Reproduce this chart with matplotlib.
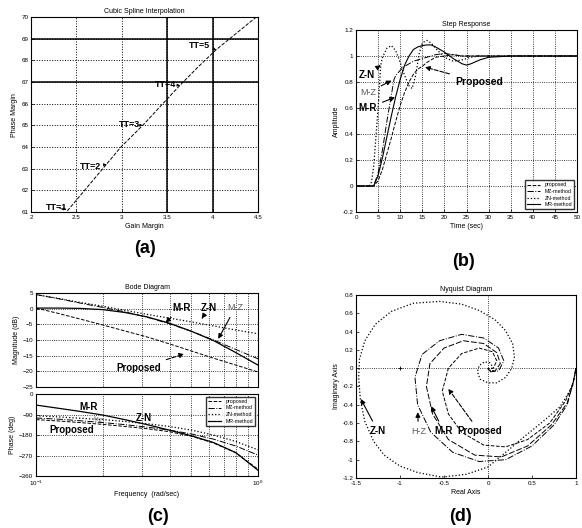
import numpy as np
import matplotlib
matplotlib.use('Agg')
from matplotlib import pyplot as plt
from matplotlib.ticker import NullFormatter

plt.rcParams['font.family'] = ['Liberation Sans', 'DejaVu Sans']

# ---- (a) cubic spline interpolation: gain margin vs phase margin
gm = [2.40, 2.49, 2.66, 2.83, 2.99, 3.23, 3.44, 3.64, 3.84, 4.04, 4.26, 4.48]
pm = [61.05, 61.5, 62.35, 63.2, 64.0, 65.0, 65.95, 66.85, 67.7, 68.5, 69.25, 70.0]
tt_labels = ['TT=1', 'TT=2', 'TT=3', 'TT=4', 'TT=5']
tt_gm = [2.42, 2.83, 3.23, 3.64, 4.04]
tt_pm = [61.1, 63.2, 65.0, 66.85, 68.5]
tt_text_gm = [2.28, 2.65, 3.08, 3.48, 3.86]
tt_text_pm = [61.2, 63.1, 65.05, 66.9, 68.7]

# ---- (b) step response
t_zn = [0, 3, 3.5, 4, 5, 5.6, 6, 7, 8, 9, 10, 11, 12, 12.7, 13.5, 14.3, 15, 16, 17, 18, 20, 22, 24, 26, 28, 30, 35, 40, 50]
y_zn = [0, 0, 0.03, 0.15, 0.6, 0.93, 0.99, 1.06, 1.08, 1.04, 0.95, 0.85, 0.77, 0.75, 0.85, 1.02, 1.1, 1.12, 1.1, 1.06, 0.99, 0.96, 0.97, 0.99, 1.0, 1.0, 1.0, 1.0, 1.0]
t_mz = [0, 4, 5, 6, 7, 8, 8.6, 9, 10, 11, 12, 13, 14, 16, 18, 20, 22, 24, 26, 28, 30, 35, 40, 50]
y_mz = [0, 0, 0.1, 0.28, 0.5, 0.7, 0.82, 0.85, 0.89, 0.92, 0.94, 0.96, 0.97, 0.99, 1.01, 1.02, 1.01, 1.0, 1.0, 1.0, 1.0, 1.0, 1.0, 1.0]
t_mr = [0, 4, 5, 6, 7, 8, 9, 10, 11, 12, 13, 14, 15, 16, 17, 18, 19, 20, 22, 24, 25, 26, 28, 30, 35, 40, 50]
y_mr = [0, 0, 0.08, 0.22, 0.38, 0.54, 0.69, 0.82, 0.93, 1.0, 1.05, 1.07, 1.08, 1.085, 1.085, 1.07, 1.05, 1.03, 0.98, 0.94, 0.93, 0.94, 0.97, 0.99, 1.0, 1.0, 1.0]
t_pr = [0, 4, 5, 6, 7, 8, 9, 10, 11, 12, 13, 14, 15, 16, 17, 18, 20, 22, 24, 26, 30, 35, 40, 50]
y_pr = [0, 0, 0.04, 0.13, 0.25, 0.37, 0.5, 0.62, 0.72, 0.8, 0.86, 0.9, 0.92, 0.95, 0.97, 0.99, 1.0, 1.01, 1.0, 1.0, 1.0, 1.0, 1.0, 1.0]

# ---- (c) bode diagram, one decade 0.1 .. 1 rad/sec
w = [0.1, 0.126, 0.158, 0.2, 0.251, 0.316, 0.398, 0.501, 0.631, 0.794, 1.0]
mag_zn = [4.5, 3.3, 2.0, 0.8, -0.5, -1.8, -3.0, -4.2, -5.5, -6.8, -8.0]
mag_mz = [4.5, 3.2, 1.8, 0.4, -1.0, -2.7, -4.8, -7.2, -10.0, -13.0, -16.0]
mag_mr = [0.2, 0.2, 0.1, -0.3, -1.2, -2.6, -4.6, -7.2, -10.2, -14.0, -18.0]
mag_pr = [0.2, -1.5, -3.3, -5.2, -7.1, -9.0, -11.2, -13.5, -15.8, -18.0, -20.2]
ph_zn = [-95, -100, -106, -112, -120, -130, -142, -158, -180, -208, -245]
ph_mz = [-105, -110, -117, -125, -134, -145, -158, -175, -198, -228, -268]
ph_mr = [-48, -62, -76, -92, -112, -134, -158, -183, -213, -257, -335]
ph_pr = [-112, -118, -125, -133, -142, -152, -165, -185, -215, -258, -330]

# ---- (d) nyquist diagram
re_zn = [1.0, 0.96, 0.82, 0.64, 0.41, 0.2, 0.0, -0.25, -0.53, -0.8, -1.0, -1.18, -1.3, -1.4, -1.45, -1.47,
         -1.46, -1.4, -1.28, -1.1, -0.85, -0.55, -0.3, -0.1, 0.08, 0.2, 0.28, 0.3, 0.27, 0.2, 0.1, 0.0,
         -0.09, -0.12, -0.1, -0.04, 0.02, 0.05, 0.04, 0.01, 0.0]
im_zn = [0.0, -0.2, -0.42, -0.57, -0.75, -0.92, -1.08, -1.16, -1.19, -1.14, -1.07, -0.95, -0.8, -0.58, -0.35, -0.1,
         0.1, 0.3, 0.48, 0.62, 0.71, 0.73, 0.7, 0.63, 0.53, 0.41, 0.27, 0.12, 0.0, -0.1, -0.16, -0.16,
         -0.12, -0.04, 0.03, 0.07, 0.06, 0.02, -0.02, -0.03, 0.0]
re_mz = [1.0, 0.97, 0.9, 0.75, 0.5, 0.2, -0.1, -0.4, -0.65, -0.8, -0.83, -0.75, -0.55, -0.3, -0.05, 0.12, 0.18, 0.12, 0.03, 0.0]
im_mz = [0.0, -0.15, -0.4, -0.62, -0.85, -1.0, -1.02, -0.92, -0.7, -0.4, -0.1, 0.15, 0.3, 0.37, 0.33, 0.22, 0.08, -0.03, -0.04, 0.0]
re_mr = [1.0, 0.97, 0.9, 0.72, 0.45, 0.15, -0.15, -0.45, -0.63, -0.7, -0.66, -0.5, -0.28, -0.05, 0.1, 0.14, 0.08, 0.01, 0.0]
im_mr = [0.0, -0.15, -0.38, -0.62, -0.85, -0.97, -0.95, -0.78, -0.5, -0.2, 0.05, 0.22, 0.3, 0.27, 0.17, 0.05, -0.03, -0.02, 0.0]
re_pr = [1.0, 0.97, 0.88, 0.7, 0.45, 0.2, -0.05, -0.3, -0.45, -0.52, -0.45, -0.3, -0.1, 0.05, 0.1, 0.06, 0.0]
im_pr = [0.0, -0.15, -0.36, -0.6, -0.78, -0.86, -0.84, -0.7, -0.5, -0.25, 0.0, 0.16, 0.22, 0.18, 0.08, 0.0, -0.01]

legend_names = ['proposed', 'MZ-method', 'ZN-method', 'MR-method']

fs_tick = 4.5
arrow = dict(arrowstyle='-|>', color='k', lw=0.8, mutation_scale=7)
arrow_dash = dict(arrowstyle='-|>', color='k', lw=0.8, ls='--', mutation_scale=7)


def setup(ax, title, xlabel, ylabel):
    ax.set_title(title, fontsize=5, pad=3)
    ax.set_xlabel(xlabel, fontsize=5, labelpad=2)
    ax.set_ylabel(ylabel, fontsize=5, labelpad=2)
    ax.tick_params(which='both', labelsize=fs_tick, direction='in', width=0.5, pad=2)
    ax.tick_params(which='major', length=2)
    ax.tick_params(which='minor', length=1)
    for s in ax.spines.values():
        s.set_linewidth(0.8)


fig = plt.figure(figsize=(5.82, 5.28), dpi=100)

# (a)
ax = fig.add_axes([0.0533, 0.5985, 0.390, 0.369])
ax.plot(gm, pm, 'k--', lw=0.7)
ax.set_xlim(2, 4.5)
ax.set_ylim(61, 70)
ax.set_xticks([2, 2.5, 3, 3.5, 4, 4.5])
ax.set_xticklabels(['2', '2.5', '3', '3.5', '4', '4.5'])
ax.set_yticks(np.arange(61, 71))
ax.grid(True, linestyle=':', color='k', lw=0.7)
for v in [67, 69]:
    ax.axhline(v, color='k', lw=1.1)
for v in [3.5, 4]:
    ax.axvline(v, color='k', lw=1.1)
for lab, x0, y0, x1, y1 in zip(tt_labels, tt_text_gm, tt_text_pm, tt_gm, tt_pm):
    ax.annotate(lab, xy=(x1, y1), xytext=(x0, y0), fontsize=6.5, fontweight='bold',
                ha='center', va='center',
                arrowprops=dict(arrowstyle='-|>', color='k', lw=0.5, mutation_scale=4))
setup(ax, 'Cubic Spline Interpolation', 'Gain Margin', 'Phase Margin')

# (b)
ax = fig.add_axes([0.6117, 0.5985, 0.3797, 0.3447])
ax.plot(t_pr, y_pr, 'k--', lw=0.7, label=legend_names[0])
ax.plot(t_mz, y_mz, 'k-.', lw=0.7, label=legend_names[1])
ax.plot(t_zn, y_zn, 'k:', lw=0.9, label=legend_names[2])
ax.plot(t_mr, y_mr, 'k-', lw=0.8, label=legend_names[3])
ax.set_xlim(0, 50)
ax.set_ylim(-0.2, 1.2)
ax.set_xticks(np.arange(0, 51, 5))
ax.set_yticks([-0.2, 0, 0.2, 0.4, 0.6, 0.8, 1, 1.2])
ax.set_yticklabels(['-0.2', '0', '0.2', '0.4', '0.6', '0.8', '1', '1.2'])
ax.grid(True, linestyle=':', color='k', lw=0.6)
ax.legend(loc='lower right', fontsize=3.8, frameon=True, edgecolor='k', fancybox=False,
          handlelength=2.5, borderpad=0.4, labelspacing=0.3)
ax.annotate('Z-N', xy=(5.6, 0.93), xytext=(2.4, 0.85), fontsize=7, fontweight='bold',
            ha='center', va='center', arrowprops=arrow)
ax.annotate('M-Z', xy=(8.6, 0.82), xytext=(2.7, 0.72), fontsize=6.5, color='0.35',
            ha='center', va='center', arrowprops=arrow)
ax.annotate('M-R', xy=(9.4, 0.69), xytext=(2.7, 0.6), fontsize=7, fontweight='bold',
            ha='center', va='center', arrowprops=arrow)
ax.annotate('Proposed', xy=(15, 0.92), xytext=(27.8, 0.8), fontsize=7.5, fontweight='bold',
            ha='center', va='center', arrowprops=arrow_dash)
setup(ax, 'Step Response', 'Time (sec)', 'Amplitude')

# (c) magnitude
ax = fig.add_axes([0.0619, 0.267, 0.3814, 0.178])
ax.semilogx(w, mag_pr, 'k--', lw=0.7)
ax.semilogx(w, mag_mz, 'k-.', lw=0.7)
ax.semilogx(w, mag_zn, 'k:', lw=0.9)
ax.semilogx(w, mag_mr, 'k-', lw=0.9)
ax.set_xlim(0.1, 1)
ax.set_ylim(-25, 5)
ax.set_yticks([5, 0, -5, -10, -15, -20, -25])
ax.xaxis.set_major_formatter(NullFormatter())
ax.xaxis.set_minor_formatter(NullFormatter())
ax.grid(True, which='both', linestyle=':', color='k', lw=0.6)
ax.annotate('M-R', xy=(0.375, -5), xytext=(0.454, 0.3), fontsize=7, fontweight='bold',
            ha='center', va='center', arrowprops=arrow)
ax.annotate('Z-N', xy=(0.55, -3.9), xytext=(0.6, 0.3), fontsize=7, fontweight='bold',
            ha='center', va='center', arrowprops=arrow)
ax.annotate('M-Z', xy=(0.653, -10.4), xytext=(0.79, 0.3), fontsize=6.5, color='0.35',
            ha='center', va='center', arrowprops=arrow)
ax.annotate('Proposed', xy=(0.478, -14.2), xytext=(0.29, -19), fontsize=7, fontweight='bold',
            ha='center', va='center', arrowprops=arrow_dash)
setup(ax, 'Bode Diagram', '', 'Magnitude (dB)')

# (c) phase
ax = fig.add_axes([0.0619, 0.0985, 0.3814, 0.155])
ax.semilogx(w, ph_pr, 'k--', lw=0.7, label=legend_names[0])
ax.semilogx(w, ph_mz, 'k-.', lw=0.7, label=legend_names[1])
ax.semilogx(w, ph_zn, 'k:', lw=0.9, label=legend_names[2])
ax.semilogx(w, ph_mr, 'k-', lw=0.9, label=legend_names[3])
ax.set_xlim(0.1, 1)
ax.set_ylim(-360, 0)
ax.set_yticks([0, -90, -180, -270, -360])
ax.xaxis.set_minor_formatter(NullFormatter())
ax.grid(True, which='both', linestyle=':', color='k', lw=0.6)
ax.legend(loc='upper right', fontsize=3.8, frameon=True, edgecolor='k', fancybox=False,
          handlelength=2.5, borderpad=0.4, labelspacing=0.3)
ax.text(0.172, -56, 'M-R', fontsize=7, fontweight='bold', ha='center', va='center')
ax.text(0.305, -107, 'Z-N', fontsize=7, fontweight='bold', ha='center', va='center')
ax.text(0.145, -158, 'Proposed', fontsize=7, fontweight='bold', ha='center', va='center')
ax.text(0.19, -114, 'M-Z', fontsize=4, color='0.35', ha='center', va='center', rotation=-15)
setup(ax, '', 'Frequency  (rad/sec)', 'Phase (deg)')

# (d)
ax = fig.add_axes([0.6117, 0.0947, 0.378, 0.3466])
ax.plot(re_pr, im_pr, 'k--', lw=0.7)
ax.plot(re_mz, im_mz, 'k-.', lw=0.7)
ax.plot(re_zn, im_zn, 'k:', lw=0.9)
ax.plot(re_mr, im_mr, color='k', lw=0.7, ls=(0, (6, 2)))
ax.axhline(0, color='k', ls=':', lw=0.6)
ax.axvline(0, color='k', ls=':', lw=0.6)
ax.plot([-1], [0], 'k+', ms=3, mew=0.6)
ax.set_xlim(-1.5, 1.0)
ax.set_ylim(-1.2, 0.8)
ax.set_xticks([-1.5, -1, -0.5, 0, 0.5, 1])
ax.set_xticklabels(['-1.5', '-1', '-0.5', '0', '0.5', '1'])
ax.set_yticks([0.8, 0.6, 0.4, 0.2, 0, -0.2, -0.4, -0.6, -0.8, -1, -1.2])
ax.set_yticklabels(['0.8', '0.6', '0.4', '0.2', '0', '-0.2', '-0.4', '-0.6', '-0.8', '-1', '-1.2'])
ax.annotate('Z-N', xy=(-1.46, -0.31), xytext=(-1.25, -0.69), fontsize=7, fontweight='bold',
            ha='center', va='center', arrowprops=arrow)
ax.annotate('H-Z', xy=(-0.8, -0.45), xytext=(-0.79, -0.69), fontsize=6.5, color='0.35',
            ha='center', va='center', arrowprops=arrow)
ax.annotate('M-R', xy=(-0.66, -0.39), xytext=(-0.5, -0.69), fontsize=7, fontweight='bold',
            ha='center', va='center', arrowprops=arrow)
ax.annotate('Proposed', xy=(-0.47, -0.2), xytext=(-0.1, -0.69), fontsize=7, fontweight='bold',
            ha='center', va='center', arrowprops=arrow_dash)
setup(ax, 'Nyquist Diagram', 'Real Axis', 'Imaginary Axis')

fig.text(0.249, 0.530, '(a)', fontsize=13, fontweight='bold', ha='center', va='center')
fig.text(0.796, 0.505, '(b)', fontsize=13, fontweight='bold', ha='center', va='center')
fig.text(0.272, 0.021, '(c)', fontsize=13, fontweight='bold', ha='center', va='center')
fig.text(0.792, 0.021, '(d)', fontsize=13, fontweight='bold', ha='center', va='center')

fig.savefig('out.png', dpi=100)
